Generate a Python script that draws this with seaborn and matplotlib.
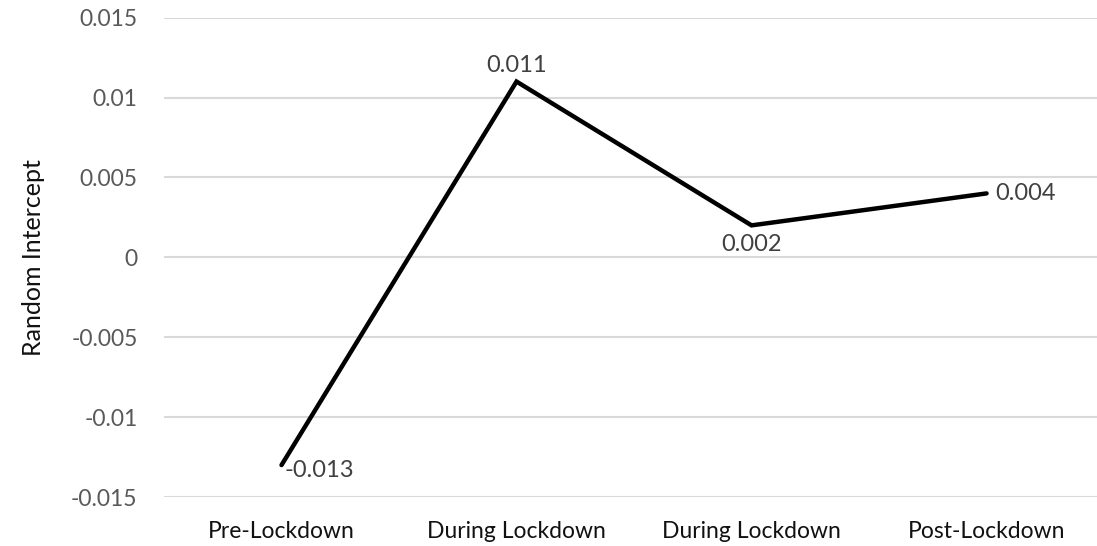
import matplotlib
matplotlib.use("Agg")
import matplotlib.pyplot as plt
import seaborn as sns
import numpy as np
from matplotlib.ticker import FuncFormatter

stages = ["Pre-Lockdown", "During Lockdown", "During Lockdown", "Post-Lockdown"]
intercepts = [-0.013, 0.011, 0.002, 0.004]
value_labels = ["-0.013", "0.011", "0.002", "0.004"]
y_ticks = [-0.015, -0.01, -0.005, 0, 0.005, 0.01, 0.015]

sns.set_theme(style="white")
plt.rcParams["font.family"] = ["Lato", "DejaVu Sans"]

fig = plt.figure(figsize=(10.97, 5.46), dpi=100)
ax = fig.add_axes([0.1495, 0.0897, 0.8505, 0.878])

positions = np.arange(len(stages))
sns.lineplot(x=positions, y=intercepts, ax=ax, color="black", linewidth=3.2,
             solid_joinstyle="miter", zorder=3)

ax.set_xlim(-0.5, 3.47)
ax.set_ylim(-0.015, 0.015)
ax.set_yticks(y_ticks)
ax.yaxis.set_major_formatter(FuncFormatter(lambda v, _: "0" if abs(v) < 1e-12 else f"{v:g}"))
ax.set_xticks(positions)
ax.set_xticklabels(stages)

ax.grid(axis="y", color="#d9d9d9", linewidth=1.5, zorder=0)
ax.grid(axis="x", visible=False)
for side in ax.spines.values():
    side.set_visible(False)

ax.tick_params(axis="y", length=0, pad=19, labelsize=16.5, labelcolor="#595959")
ax.tick_params(axis="x", length=0, pad=17, labelsize=16.5, labelcolor="#111111")
ax.set_ylabel("Random Intercept", fontsize=18, color="#111111", labelpad=19)

# value annotations beside each point
offsets = [(2, -4, "left", "center"), (0, 4, "center", "bottom"),
           (0, -6, "center", "top"), (6, 0, "left", "center")]
for x, y, txt, (dx, dy, ha, va) in zip(positions, intercepts, value_labels, offsets):
    ax.annotate(txt, (x, y), xytext=(dx, dy), textcoords="offset points",
                ha=ha, va=va, fontsize=17, color="#404040")

fig.savefig("out.png", dpi=100)
